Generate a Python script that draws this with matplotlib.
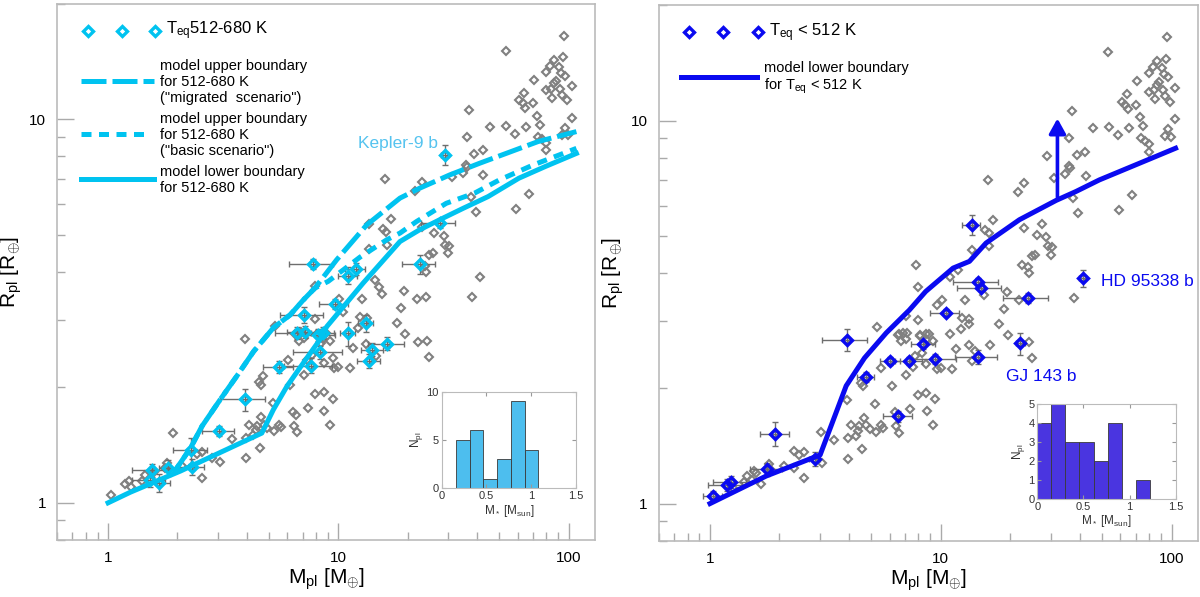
import numpy as np
import matplotlib.pyplot as plt
from matplotlib.ticker import LogLocator, NullFormatter

plt.rcParams['font.family'] = ['Liberation Sans', 'DejaVu Sans']
plt.rcParams['mathtext.fontset'] = 'custom'
plt.rcParams['mathtext.rm'] = 'Liberation Sans'
plt.rcParams['mathtext.it'] = 'Liberation Sans:italic'

# known planets that are in neither coloured group (grey diamonds)
other_mass = [5.30, 7.94, 6.51, 6.85, 7.08, 6.73, 8.09, 8.87, 8.59, 9.23, 7.69, 6.15, 7.08,
              8.64, 9.61, 4.52, 4.59, 5.21, 7.94, 8.64, 7.36, 8.70, 9.48, 4.63, 4.75, 4.09,
              4.44, 4.37, 4.91, 5.25, 5.52, 5.61, 6.41, 6.62, 9.23, 3.96, 4.27, 4.57, 3.96,
              3.46, 3.05, 2.55, 2.44, 2.55, 2.10, 1.44, 1.58, 1.41, 1.81, 1.26, 6.34,
              15.97, 23.0, 21.5, 31.0, 34.6, 36.3, 42.6, 37.5, 39.4, 59.3, 67.1, 16.9, 15.6,
              16.1, 16.2, 13.6, 23.0, 26.1, 28.6, 29.0, 30.3, 30.0, 24.8, 25.7, 23.8, 24.0,
              7.95, 15.4, 12.7, 10.1, 19.3, 18.7, 21.9, 37.9, 12.4, 13.3, 12.2, 17.9, 19.5,
              13.2, 11.6, 24.2, 24.8, 11.2, 10.0,
              95.4, 53.2, 86.1, 94.4, 82.7, 80.0, 90.8, 92.9, 96.0, 70.5, 88.4, 103.7, 80.0,
              84.1, 86.1, 91.4, 84.9, 93.8, 98.3, 63.8, 60.9, 63.0, 64.5, 70.0, 72.9, 103.7,
              74.8, 65.5, 96.0, 93.8, 99.3, 73.6, 76.9, 80.0, 80.0, 53.3, 58.7, 45.5, 36.9,
              36.0, 38.8, 42.3, 35.8]
other_rad = [2.89, 3.01, 2.76, 2.79, 2.69, 2.65, 2.76, 2.77, 2.68, 2.65, 2.43, 2.03, 2.16,
             2.31, 2.25, 2.07, 2.03, 1.82, 1.92, 1.95, 1.77, 1.74, 1.87, 1.67, 1.60, 1.60,
             1.59, 1.55, 1.57, 1.54, 1.60, 1.58, 1.59, 1.53, 1.60, 1.48, 1.50, 1.39, 1.31,
             1.47, 1.28, 1.164, 1.34, 1.36, 1.25, 1.18, 1.20, 1.14, 1.27, 1.10, 1.73,
             6.98, 6.87, 6.50, 7.08, 7.25, 7.51, 7.17, 6.28, 5.73, 5.83, 6.40, 5.49, 5.19,
             5.09, 4.70, 4.58, 5.24, 5.04, 4.96, 4.71, 4.67, 4.47, 4.42, 4.47, 4.15, 4.00,
             3.68, 3.51, 3.41, 3.41, 3.56, 3.23, 3.41, 3.44, 3.05, 3.04, 2.85, 2.95, 2.75,
             2.60, 2.54, 2.64, 2.40, 2.25, 2.26,
             16.5, 15.1, 14.3, 14.5, 13.8, 13.3, 13.7, 13.2, 13.0, 12.7, 12.6, 12.2, 11.9,
             12.0, 12.4, 12.0, 11.4, 11.6, 11.2, 11.7, 11.2, 11.0, 10.7, 11.0, 10.2, 10.1,
             9.68, 9.55, 9.49, 9.12, 9.08, 8.99, 8.87, 8.69, 8.30, 9.61, 9.18, 9.55, 10.6,
             8.99, 8.14, 8.30, 7.59]

# Teq 512-680 K planets (left panel)
warm_mass = [1.55, 1.52, 1.66, 1.82, 2.30, 2.31, 3.04, 3.94, 5.52, 7.09, 6.59, 7.16, 8.12, 8.32,
             7.60, 28.9, 7.78, 11.0, 11.9, 22.5, 27.5, 9.66, 8.60, 13.2, 11.0, 16.3, 14.06, 13.6]
warm_rad = [1.216, 1.15, 1.127, 1.233, 1.37, 1.24, 1.54, 1.86, 2.26, 3.09, 2.77, 2.79, 2.74, 2.47,
            2.28, 8.07, 4.20, 3.91, 4.07, 4.19, 5.36, 3.30, 2.78, 2.94, 2.77, 2.60, 2.51, 2.35]
warm_mass_err = [0.28, 0.25, 0.2, 0.15, 0.38, 0.3, 0.48, 0.87, 0.8, 1.5, 1.3, 1.2, 1.5, 2.0,
                 1.8, 1.0, 1.7, 1.0, 1.2, 3.7, 4.6, 1.4, 1.0, 1.0, 0.8, 2.9, 1.5, 1.5]
warm_rad_err = [0.05, 0.05, 0.06, 0.06, 0.11, 0.06, 0.05, 0.12, 0.08, 0.15, 0.1, 0.1, 0.1, 0.1,
                0.1, 0.48, 0.12, 0.2, 0.15, 0.25, 0.15, 0.1, 0.1, 0.15, 0.2, 0.1, 0.1, 0.1]

# Teq < 512 K planets (right panel)
cool_mass = [1.03, 1.18, 1.23, 1.77, 1.92, 2.84, 3.93, 4.72, 6.03, 7.31, 6.55, 8.41, 9.48,
             13.6, 14.45, 15.0, 10.5, 23.9, 41.1, 22.1, 14.5]
cool_rad = [1.047, 1.118, 1.141, 1.229, 1.52, 1.305, 2.68, 2.14, 2.36, 2.36, 1.69, 2.61, 2.39,
            5.35, 3.80, 3.66, 3.15, 3.44, 3.88, 2.62, 2.42]
cool_mass_err = [0.1, 0.2, 0.2, 0.28, 0.27, 0.15, 0.88, 0.4, 0.6, 1.0, 0.95, 1.0, 2.1,
                 1.2, 3.2, 3.2, 1.5, 5.3, 1.5, 1.0, 3.0]
cool_rad_err = [0.03, 0.04, 0.04, 0.05, 0.11, 0.055, 0.17, 0.06, 0.06, 0.06, 0.06, 0.07, 0.07,
                0.32, 0.08, 0.08, 0.07, 0.1, 0.2, 0.17, 0.1]

# model boundaries, 512-680 K
low_warm_m = [1, 1.25, 2.06, 4.65, 5.22, 5.97, 6.7, 8.3, 8.9, 12.8, 18.5, 22.5, 27.5, 34.8,
              44.7, 60.7, 79, 108]
low_warm_r = [1, 1.066, 1.21, 1.52, 1.75, 2.01, 2.22, 2.66, 2.88, 3.74, 4.8, 5.15, 5.47, 5.86,
              6.29, 7.02, 7.53, 8.15]
up_mig_m = [1.93, 2.28, 2.55, 3.07, 3.62, 4.28, 5.22, 6.17, 7.04, 7.9, 9.82, 13.25, 18.5, 22.5,
            30.4, 41, 73.6, 108]
up_mig_r = [1.20, 1.39, 1.58, 1.86, 2.14, 2.48, 2.86, 3.09, 3.38, 3.63, 4.30, 5.3, 6.23, 6.61,
            7.16, 7.68, 8.75, 9.29]
up_basic_m = [1.93, 2.28, 2.55, 3.07, 3.62, 4.28, 5.22, 6.17, 7.04, 7.9, 9.03, 12.4, 16.2, 18.5,
              21.8, 29.4, 39, 50, 70, 108]
up_basic_r = [1.20, 1.39, 1.58, 1.86, 2.14, 2.48, 2.86, 3.09, 3.38, 3.63, 3.78, 4.37, 4.85, 5.05,
              5.41, 6.04, 6.42, 6.95, 7.6, 8.4]

# model lower boundary, Teq < 512 K
low_cool_m = [1, 1.75, 3.0, 3.89, 4.67, 5.8, 7.3, 8.6, 11.3, 13.3, 15.7, 21.9, 31.6, 38.5,
              48.6, 80, 104]
low_cool_r = [1, 1.18, 1.34, 2.03, 2.40, 2.79, 3.2, 3.58, 4.12, 4.29, 4.79, 5.51, 6.19, 6.53,
              7.0, 7.93, 8.47]
arrow_m = 32
arrow_r = (6.2, 10.3)

# host star masses
warm_star_edges = [0.159, 0.312, 0.465, 0.618, 0.771, 0.924, 1.077]
warm_star_counts = [5, 6, 1, 3, 9, 4]
cool_star_edges = [0, 0.152, 0.305, 0.457, 0.61, 0.762, 0.914, 1.067, 1.219]
cool_star_counts = [4, 5, 3, 3, 2, 4, 0, 1]

CYAN = '#00c3f0'
BLUE = '#0a0af0'
GREY = '#808080'

all_mass = other_mass + warm_mass + cool_mass
all_rad = other_rad + warm_rad + cool_rad


def style_main(ax):
    ax.set_xscale('log')
    ax.set_yscale('log')
    ax.set_xlim(0.6, 130)
    ax.set_ylim(0.8, 20)
    ax.set_xticks([1, 10, 100])
    ax.set_xticklabels(['1', '10', '100'])
    ax.set_yticks([1, 10])
    ax.set_yticklabels(['1', '10'])
    for axis in (ax.xaxis, ax.yaxis):
        axis.set_minor_locator(LogLocator(base=10, subs=np.arange(2, 10) * 1.0, numticks=20))
        axis.set_minor_formatter(NullFormatter())
    ax.tick_params(which='both', direction='in', color='#aaaaaa', top=False, right=False,
                   labelsize=11, pad=8)
    ax.tick_params(which='major', length=12, width=1)
    ax.tick_params(which='minor', length=6, width=1)
    for s in ax.spines.values():
        s.set_color('#bbbbbb')
        s.set_linewidth(1.2)
    ax.set_xlabel(r'M$_{\rm pl}$ [M$_{\oplus}$]', fontsize=15)
    ax.set_ylabel(r'R$_{\rm pl}$ [R$_{\oplus}$]', fontsize=15)
    ax.xaxis.set_label_coords(0.5, -0.05)
    ax.yaxis.set_label_coords(-0.061, 0.5)


def sample(ax, mass, rad, merr, rerr, color):
    ax.plot(all_mass, all_rad, 'D', ms=3.6, mfc='none', mec=GREY, mew=1.5, zorder=2)
    ax.errorbar(mass, rad, xerr=merr, yerr=rerr, fmt='none', ecolor='#6e6e6e',
                elinewidth=1, capsize=2.5, capthick=1, zorder=2.5)
    ax.plot(mass, rad, 'D', ms=5.3, mfc='none', mec=color, mew=2.4, zorder=4)


def inset(rect, edges, counts, color, ymax, yticks):
    ins = fig.add_axes(rect)
    ins.bar(edges[:-1], counts, width=np.diff(edges), align='edge', color=color,
            edgecolor='#3a3a3a', linewidth=0.6)
    ins.set_xlim(0, 1.5)
    ins.set_ylim(0, ymax)
    ins.set_xticks([0, 0.5, 1, 1.5])
    ins.set_xticklabels(['0', '0.5', '1', '1.5'])
    ins.set_yticks(yticks)
    ins.tick_params(direction='in', length=3, top=True, right=True, labelsize=8,
                    labelcolor='#333333', color='#999999', pad=2)
    for s in ins.spines.values():
        s.set_color('#bbbbbb')
    ins.set_xlabel(r'M$_*$ [M$_{\rm sun}$]', fontsize=8.5, color='#333333', labelpad=1)
    ins.set_ylabel(r'N$_{\rm pl}$', fontsize=8.5, color='#333333', labelpad=1)


fig = plt.figure(figsize=(12, 5.97), dpi=100)

# left panel: 512-680 K
ax1 = fig.add_axes([0.0475, 0.0955, 0.4483, 0.898])
style_main(ax1)
sample(ax1, warm_mass, warm_rad, warm_mass_err, warm_rad_err, CYAN)
ax1.plot(up_mig_m, up_mig_r, color=CYAN, lw=3.6, dashes=(5, 1.2), zorder=3)
ax1.plot(up_basic_m, up_basic_r, color=CYAN, lw=3.6, dashes=(2, 1.5), zorder=3)
ax1.plot(low_warm_m, low_warm_r, color=CYAN, lw=3.6, zorder=3)
ax1.text(12.15, 8.63, 'Kepler-9 b', color='#55c3ef', fontsize=12.5, va='center')

# legend, drawn by hand
tr = ax1.transAxes
ax1.plot([0.0571, 0.1199, 0.1822], [0.950] * 3, 'D', ms=5.3, mfc='none', mec=CYAN, mew=2.4,
         transform=tr)
ax1.text(0.2026, 0.950, r'T$_{\rm eq}$512-680 K', fontsize=12, va='center', transform=tr)
ax1.plot([0.0455, 0.1803], [0.8563] * 2, color=CYAN, lw=3.6, dashes=(5, 1.2), transform=tr)
ax1.text(0.1914, 0.8545, 'model upper boundary\nfor 512-680 K\n("migrated  scenario")',
         fontsize=10.5, va='center', transform=tr)
ax1.plot([0.0455, 0.1617], [0.7575] * 2, color=CYAN, lw=3.6, dashes=(2, 1.5), transform=tr)
ax1.text(0.1914, 0.7556, 'model upper boundary\nfor 512-680 K\n("basic scenario")',
         fontsize=10.5, va='center', transform=tr)
ax1.plot([0.0455, 0.1803], [0.6735] * 2, color=CYAN, lw=3.6, transform=tr)
ax1.text(0.1914, 0.6716, 'model lower boundary\nfor 512-680 K',
         fontsize=10.5, va='center', transform=tr)

# right panel: Teq < 512 K
ax2 = fig.add_axes([0.549, 0.0943, 0.4493, 0.8968])
style_main(ax2)
sample(ax2, cool_mass, cool_rad, cool_mass_err, cool_rad_err, BLUE)
ax2.plot(low_cool_m, low_cool_r, color=BLUE, lw=3.6, zorder=3)
ax2.annotate('', xy=(arrow_m, arrow_r[1]), xytext=(arrow_m, arrow_r[0]),
             arrowprops=dict(arrowstyle='-|>,head_length=0.45,head_width=0.25',
                             mutation_scale=20, color=BLUE, lw=2.6), zorder=3)
ax2.text(49.6, 3.80, 'HD 95338 b', color=BLUE, fontsize=12.5, va='center')
ax2.text(19.2, 2.15, 'GJ 143 b', color=BLUE, fontsize=12.5, va='center')

tr = ax2.transAxes
ax2.plot([0.0551, 0.1191, 0.184], [0.9496] * 3, 'D', ms=5.3, mfc='none', mec=BLUE, mew=2.4,
         transform=tr)
ax2.text(0.2044, 0.9496, r'T$_{\rm eq}$ < 512 K', fontsize=12, va='center', transform=tr)
ax2.plot([0.0421, 0.1821], [0.8661] * 2, color=BLUE, lw=3.6, transform=tr)
ax2.text(0.1942, 0.8633, 'model lower boundary\n' + r'for T$_{\rm eq}$ < 512 K',
         fontsize=10.5, va='center', transform=tr)

# host star mass histograms
inset([0.368, 0.182, 0.1122, 0.1618], warm_star_edges, warm_star_counts, '#4dbeee', 10,
      [0, 5, 10])
inset([0.8644, 0.164, 0.1153, 0.159], cool_star_edges, cool_star_counts, '#4a35e0', 5,
      [0, 1, 2, 3, 4, 5])

fig.savefig('out.png', dpi=100)
